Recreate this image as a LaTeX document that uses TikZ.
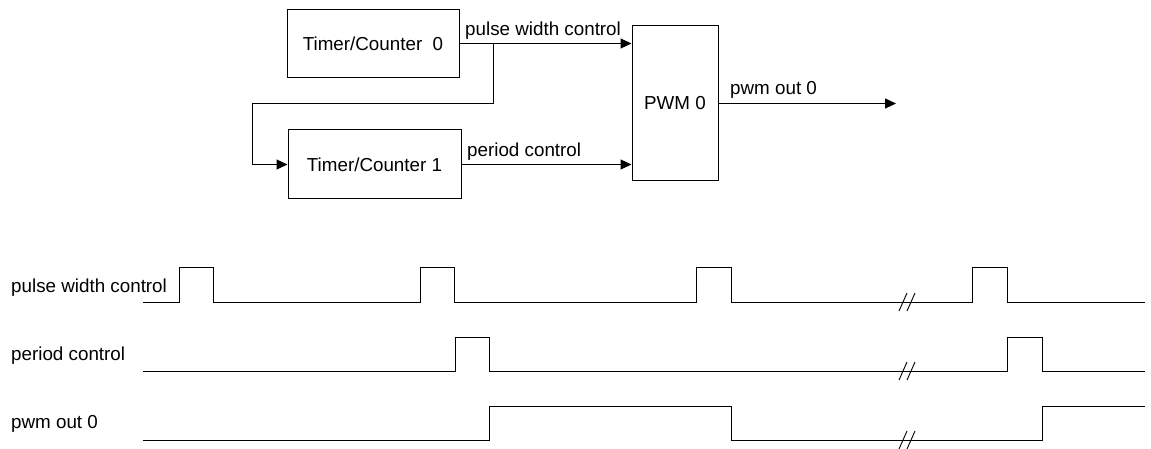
\documentclass[tikz,border=0pt]{standalone}
\usepackage{fontspec}
\setmainfont{Liberation Sans}
\usetikzlibrary{arrows.meta}
\begin{document}
\begin{tikzpicture}[x=1pt,y=-1pt,
  lbl/.style={font=\fontsize{18.8}{22}\selectfont, inner sep=0pt},
  blk/.style={draw, line width=1pt, font=\fontsize{18.8}{22}\selectfont, inner sep=0pt},
  wire/.style={line width=1pt},
  arr/.style={wire, -{Triangle[length=11pt,width=10pt]}},
  wave/.style={line width=1pt, line join=miter},
  brk/.style={line width=0.9pt}]
\useasboundingbox (0,0) rectangle (1151,449);
% blocks
\node[blk, minimum width=172pt, minimum height=68.5pt] (tc0) at (373,43.5) {Timer/Counter\ \ 0};
\node[blk, minimum width=173pt, minimum height=69pt] (tc1) at (374.5,164.5) {Timer/Counter 1};
\node[blk, minimum width=86pt, minimum height=155pt] (pwm) at (675,103.5) {PWM 0};
% connectors
\coordinate (br) at (493,43.5);
\coordinate (b1) at (493,104);
\coordinate (b2) at (252,104);
\coordinate (out) at (896,103.5);
\draw[arr] (tc0.east) -- (pwm.west |- tc0.east);
\draw[arr] (br) -- (b1) -- (b2) |- (tc1.west);
\draw[arr] (tc1.east) -- (pwm.west |- tc1.east);
\draw[arr] (pwm.east) -- (out);
\node[lbl, anchor=base west] (lpw) at (465,36) {pulse width control};
\node[lbl, anchor=base west] (lpc) at (467,157) {period control};
\node[lbl, anchor=base west] (lpo) at (730,95) {pwm out 0};
% timing labels
\node[lbl, anchor=base west] (t1) at (11,292) {pulse width control};
\node[lbl, anchor=base west] (t2) at (11,360) {period control};
\node[lbl, anchor=base west] (t3) at (11,428) {pwm out 0};
% waveforms
\draw[wave] (143,302) -- (179,302) -- (179,267) -- (213,267) -- (213,302) -- (420,302) -- (420,267) -- (454,267) -- (454,302) -- (696,302) -- (696,267) -- (731,267) -- (731,302) -- (972,302) -- (972,267) -- (1007,267) -- (1007,302) -- (1145,302);
\draw[wave] (143,371) -- (455,371) -- (455,337) -- (489,337) -- (489,371) -- (1007,371) -- (1007,337) -- (1042,337) -- (1042,371) -- (1145,371);
\draw[wave] (143,440) -- (489,440) -- (489,406) -- (731,406) -- (731,440) -- (1042,440) -- (1042,406) -- (1145,406);
% break marks
\foreach \y in {302,371,440}{
  \draw[brk] (899,\y+9) -- (907,\y-9);
  \draw[brk] (907,\y+9) -- (915,\y-9);
}
\end{tikzpicture}
\end{document}
